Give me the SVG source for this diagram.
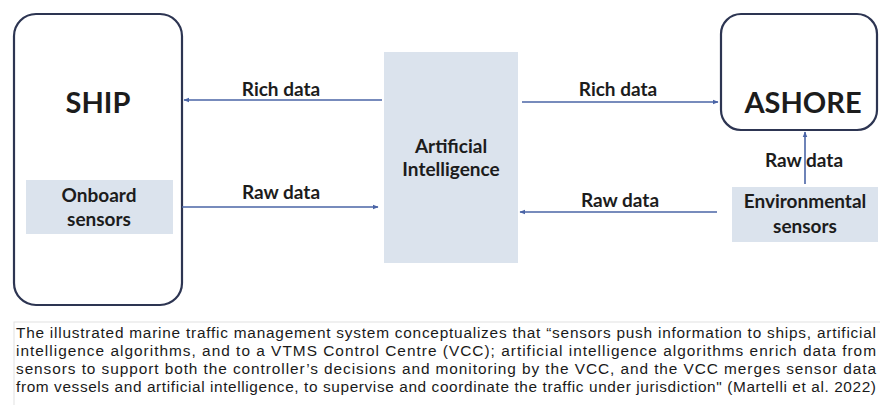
<svg xmlns="http://www.w3.org/2000/svg" width="880" height="405" viewBox="0 0 880 405">
<style>
.box{fill:#ffffff;stroke:#2d3552;stroke-width:2.2}
.fillbox{fill:#dbe3ed;stroke:none}
.lbl{font-family:Lato,"Open Sans","Liberation Sans",sans-serif;font-weight:bold;fill:#1c1c1c;text-anchor:middle}
.big{font-size:29px}
.mid{font-size:19px}
.edge{stroke:#4a64a6;stroke-width:1.6;fill:none;marker-end:url(#ah)}
.cap{font-family:"Liberation Sans",Arial,sans-serif;font-size:15.4px;fill:#1a1a1a}
</style>
<defs>
<marker id="ah" viewBox="0 0 10 10" refX="9" refY="5" markerWidth="6" markerHeight="6" orient="auto" markerUnits="userSpaceOnUse">
<path d="M0,1 L10,5 L0,9 Z" fill="#4a64a6"/>
</marker>
</defs>
<rect width="880" height="405" fill="#ffffff"/>
<g id="ship">
<rect class="box" x="14" y="14" width="168" height="291" rx="22"/>
<text class="lbl big" x="98" y="113">SHIP</text>
</g>
<g id="onboard">
<rect class="fillbox" x="26" y="180" width="147" height="54"/>
<text class="lbl mid" x="99" y="202">Onboard</text>
<text class="lbl mid" x="99" y="226">sensors</text>
</g>
<g id="ai">
<rect class="fillbox" x="384" y="52" width="134" height="211"/>
<text class="lbl mid" x="451" y="153">Artificial</text>
<text class="lbl mid" x="451" y="176">Intelligence</text>
</g>
<g id="ashore">
<rect class="box" x="721" y="14" width="156" height="116" rx="20"/>
<text class="lbl big" x="803" y="113">ASHORE</text>
</g>
<g id="env">
<rect class="fillbox" x="732" y="187" width="146" height="55"/>
<text class="lbl mid" x="805" y="208">Environmental</text>
<text class="lbl mid" x="805" y="233">sensors</text>
</g>
<g id="connectors">
<line class="edge" x1="382" y1="100" x2="184" y2="100"/>
<line class="edge" x1="182" y1="207" x2="378" y2="207"/>
<line class="edge" x1="522" y1="102" x2="718" y2="102"/>
<line class="edge" x1="717" y1="212" x2="520" y2="212"/>
<line class="edge" x1="805" y1="184" x2="805" y2="132"/>
<text class="lbl mid" x="281" y="96">Rich data</text>
<text class="lbl mid" x="281" y="199">Raw data</text>
<text class="lbl mid" x="618" y="96">Rich data</text>
<text class="lbl mid" x="620" y="207">Raw data</text>
<text class="lbl mid" x="804" y="167">Raw data</text>
</g>
<g id="caption">
<rect x="14" y="322" width="880" height="95" fill="none" stroke="#e2e2e2" stroke-width="1"/>
<text class="cap" x="16" y="338" textLength="860" lengthAdjust="spacing">The illustrated marine traffic management system conceptualizes that “sensors push information to ships, artificial</text>
<text class="cap" x="16" y="356" textLength="860" lengthAdjust="spacing">intelligence algorithms, and to a VTMS Control Centre (VCC); artificial intelligence algorithms enrich data from</text>
<text class="cap" x="16" y="374" textLength="860" lengthAdjust="spacing">sensors to support both the controller’s decisions and monitoring by the VCC, and the VCC merges sensor data</text>
<text class="cap" x="16" y="392" textLength="860" lengthAdjust="spacing">from vessels and artificial intelligence, to supervise and coordinate the traffic under jurisdiction" (Martelli et al. 2022)</text>
</g>
</svg>
